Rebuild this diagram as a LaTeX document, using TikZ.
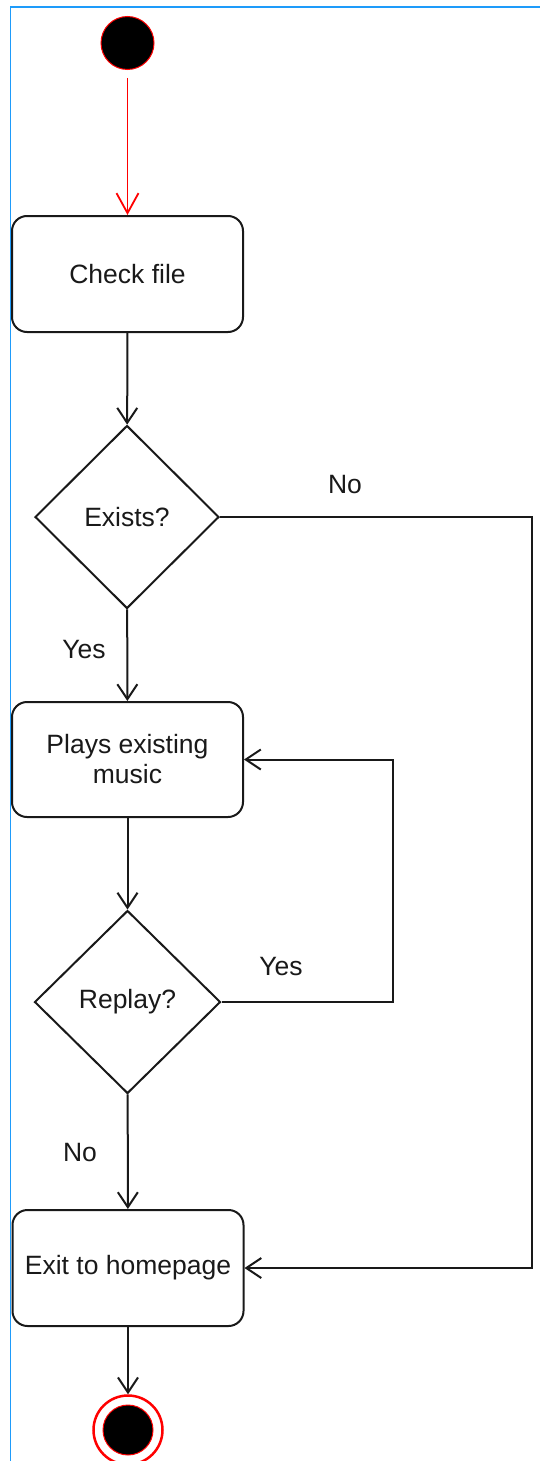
\documentclass[tikz,border=0pt]{standalone}
\usepackage{fontspec}
\setmainfont{Liberation Sans}
\usetikzlibrary{arrows.meta,shapes.geometric}
\definecolor{frameblue}{RGB}{30,155,250}
\definecolor{ink}{RGB}{25,25,25}
\begin{document}
\begin{tikzpicture}[x=1pt,y=-1pt,
  line width=2pt,
  txt/.style={font=\fontsize{26.5}{30}\selectfont, text=ink},
  act/.style={txt, draw=ink, rounded corners=15pt, minimum width=231pt,
    minimum height=116pt, align=center, inner sep=0pt},
  decision/.style={txt, draw=ink, diamond, minimum width=184pt,
    minimum height=183pt, inner sep=0pt},
  flow/.style={draw=ink, -{Straight Barb[length=15pt,width=20pt]}},
  lbl/.style={txt, inner sep=0pt}
]
\useasboundingbox (0,0) rectangle (540,1461);

% frame edges
\draw[frameblue, line width=1.6pt] (10.5,1461) -- (10.5,7) -- (540,7);

% initial state
\node[circle, fill=black, draw=red, line width=1pt, minimum size=53pt,
  inner sep=0pt] (start) at (127.5,43) {};

% activities and decisions
\node[act] (check) at (127.5,274) {Check file};
\node[decision] (exists) at (127,517) {Exists?};
\node[act, minimum height=115pt] (plays) at (127.5,759.5) {Plays existing\\music};
\node[decision, minimum width=186pt] (replay) at (127.5,1002) {Replay?};
\node[act] (exit) at (128,1268) {Exit to homepage};

% final state
\node[circle, draw=red, line width=2.5pt, minimum size=69pt, inner sep=0pt]
  (final) at (128,1430) {};
\node[circle, fill=black, draw=red, line width=1pt, minimum size=50pt,
  inner sep=0pt] (finalDot) at (final.center) {};

% bend points of the side routes
\coordinate (noCorner) at (532,517);
\coordinate (yesCorner) at (393,1002);

% connectors
\draw[flow, draw=red, line width=1.8pt, shorten <=8pt,
  -{Straight Barb[length=20pt,width=22pt]}] (start) -- (check);
\draw[flow] (check) -- (exists);
\draw[flow] (exists) -- (plays);
\draw[flow] (plays) -- (replay);
\draw[flow] (replay) -- (exit);
\draw[flow] (exit) -- (final);
\draw[flow] (exists.east) -- (noCorner) |- (exit.east);
\draw[flow] (replay.east) -- (yesCorner) |- (plays.east);

% branch labels
\node[lbl] (noExists) at (345,485) {No};
\node[lbl] (yesExists) at (84,650) {Yes};
\node[lbl] (yesReplay) at (281,967) {Yes};
\node[lbl] (noReplay) at (80,1152) {No};
\end{tikzpicture}
\end{document}
